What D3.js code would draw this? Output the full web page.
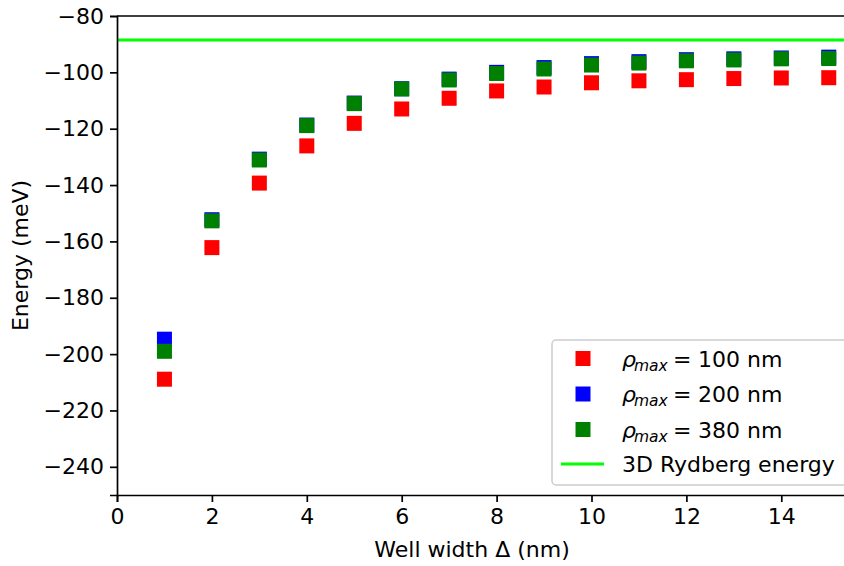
<!DOCTYPE html>
<html>
<head>
  <script src="https://d3js.org/d3.v7.min.js"></script>
  <style>
    body { margin: 0; background: #fff; }
    text { font-family: "DejaVu Sans", sans-serif; fill: #000; }
  </style>
</head>
<body>
  <script>
    // Well widths (nm)
    var widths = [1, 2, 3, 4, 5, 6, 7, 8, 9, 10, 11, 12, 13, 14, 15];

    // Energies (meV) for each rho_max
    var rho100 = [-208.9, -162.2, -139.3, -126.1, -118.1, -113.0, -109.2, -106.6, -105.2, -103.7, -103.0, -102.6, -102.2, -102.0, -101.9];
    var rho200 = [-194.7, -152.3, -130.8, -118.7, -110.9, -105.8, -102.4, -100.0, -98.3, -96.9, -96.2, -95.5, -95.2, -94.9, -94.6];
    var rho380 = [-199.0, -152.7, -131.1, -118.9, -111.1, -105.9, -102.7, -100.4, -98.8, -97.4, -96.7, -95.9, -95.6, -95.2, -95.1];

    var rydberg = -88.5;

    var xTicks = [0, 2, 4, 6, 8, 10, 12, 14];
    var yTicks = [-240, -220, -200, -180, -160, -140, -120, -100, -80];

    var series = [
      {label: "100", values: rho100, color: "#ff0000"},
      {label: "200", values: rho200, color: "#0000ff"},
      {label: "380", values: rho380, color: "#008000"}
    ];

    var margin = {top: 16, right: 0, bottom: 71, left: 117};
    var width = 844 - margin.left - margin.right;
    var height = 566 - margin.top - margin.bottom;
    var fs = "22px";

    var svg = d3.select("body")
      .append("svg")
      .attr("width", 844)
      .attr("height", 566);

    var g = svg.append("g")
      .attr("transform", "translate(" + margin.left + "," + margin.top + ")");

    var x = d3.scaleLinear().domain([0, 15.5]).range([0, 47.45 * 15.5]);
    var y = d3.scaleLinear().domain([-250, -80]).range([height, 0]);

    // 3D Rydberg energy line
    g.append("line")
      .attr("x1", x(0))
      .attr("x2", width)
      .attr("y1", y(rydberg))
      .attr("y2", y(rydberg))
      .attr("stroke", "#00ff00")
      .attr("stroke-width", 3);

    // Square markers
    var ms = 15;
    series.forEach(function(s) {
      g.selectAll(null)
        .data(widths)
        .enter().append("rect")
        .attr("x", function(d) { return x(d) - ms / 2; })
        .attr("y", function(d, i) { return y(s.values[i]) - ms / 2; })
        .attr("width", ms)
        .attr("height", ms)
        .attr("fill", s.color);
    });

    // Axes
    var xAxis = g.append("g")
      .attr("transform", "translate(0," + height + ")")
      .call(d3.axisBottom(x).tickValues(xTicks).tickSize(7).tickPadding(6).tickFormat(d3.format("d")));

    var yAxis = g.append("g")
      .call(d3.axisLeft(y).tickValues(yTicks).tickSize(7).tickPadding(6)
        .tickFormat(function(d) { return d < 0 ? "\u2212" + Math.abs(d) : d; }));

    [xAxis, yAxis].forEach(function(a) {
      a.attr("font-family", null).attr("font-size", null);
      a.select(".domain").attr("stroke-width", 1.7);
      a.selectAll(".tick line").attr("stroke-width", 1.7);
      a.selectAll(".tick text").style("font-size", fs);
    });

    // top spine
    g.append("line")
      .attr("x1", 0).attr("x2", width)
      .attr("y1", 0).attr("y2", 0)
      .attr("stroke", "#000")
      .attr("stroke-width", 1.7);

    // Axis labels
    g.append("text")
      .attr("x", 472 - margin.left)
      .attr("y", 557 - margin.top)
      .attr("text-anchor", "middle")
      .style("font-size", fs)
      .text("Well width \u0394 (nm)");

    g.append("text")
      .attr("transform", "translate(" + (28 - margin.left) + "," + (height / 2) + ") rotate(-90)")
      .attr("text-anchor", "middle")
      .style("font-size", fs)
      .text("Energy (meV)");

    // Legend
    var legend = svg.append("g").attr("transform", "translate(552,340)");
    legend.append("rect")
      .attr("x", 0).attr("y", 0)
      .attr("width", 300).attr("height", 145)
      .attr("rx", 4)
      .attr("fill", "#fff")
      .attr("fill-opacity", 0.8)
      .attr("stroke", "#cccccc")
      .attr("stroke-width", 1.5);

    var rowY = [18.5, 54, 89.5, 124];
    series.forEach(function(s, i) {
      legend.append("rect")
        .attr("x", 31 - ms / 2)
        .attr("y", rowY[i] - ms / 2)
        .attr("width", ms).attr("height", ms)
        .attr("fill", s.color);
      var base = rowY[i] + 8;
      legend.append("text")
        .attr("x", 70).attr("y", base)
        .style("font-size", fs).style("font-style", "italic")
        .text("\u03C1");
      legend.append("text")
        .attr("x", 82).attr("y", base + 4)
        .style("font-size", "15.5px").style("font-style", "italic")
        .text("max");
      legend.append("text")
        .attr("x", 121).attr("y", base)
        .style("font-size", fs)
        .text("=");
      legend.append("text")
        .attr("x", 146).attr("y", base)
        .style("font-size", fs)
        .text(s.label + " nm");
    });

    legend.append("line")
      .attr("x1", 9).attr("x2", 52)
      .attr("y1", rowY[3]).attr("y2", rowY[3])
      .attr("stroke", "#00ff00")
      .attr("stroke-width", 3);
    legend.append("text")
      .attr("x", 70)
      .attr("y", rowY[3] + 8)
      .style("font-size", fs)
      .text("3D Rydberg energy");
  </script>
</body>
</html>
